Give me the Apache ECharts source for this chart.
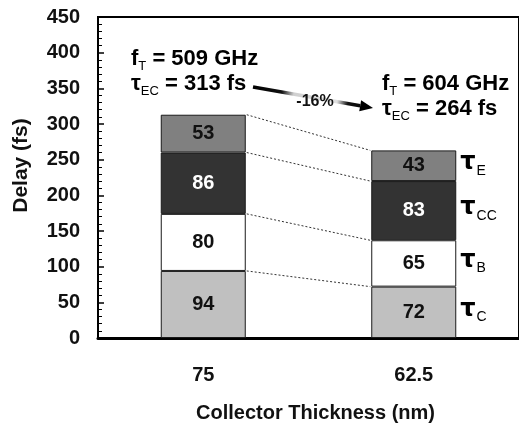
<!DOCTYPE html>
<html>
<head>
<meta charset="utf-8">
<script src="https://cdn.jsdelivr.net/npm/echarts@6/dist/echarts.min.js"></script>
<style>html,body{margin:0;padding:0;background:#fff;}#c{width:519px;height:428px;}</style>
</head>
<body>
<div id="c"></div>
<script>
const categories = ['75', '62.5'];
const tauC = [94, 72];
const tauB = [80, 65];
const tauCC = [86, 83];
const tauE = [53, 43];
const tauNames = ['C', 'B', 'CC', 'E'];
const leftNote = { fT: '509 GHz', tEC: '313 fs' };
const rightNote = { fT: '604 GHz', tEC: '264 fs' };
const changeLabel = '-16%';

const FONT = 'Liberation Sans, Arial, sans-serif';
const BAR_W = 85;
const stacks = [tauC, tauB, tauCC, tauE];
const colors = ['#c0c0c0', '#ffffff', '#333333', '#808080'];
const labelColors = ['#111', '#111', '#fff', '#111'];

// cumulative boundaries
const cum = [[0, 0]];
stacks.forEach((s, i) => cum.push([cum[i][0] + s[0], cum[i][1] + s[1]]));
const connData = cum.slice(1).map(c => [0, c[0], c[1]]);
const tauData = stacks.map((s, i) => [1, cum[i][1] + s[1] / 2, i]);

const barSeries = stacks.map((s, i) => ({
  type: 'bar', stack: 'd', data: s, barWidth: BAR_W,
  itemStyle: { color: colors[i], borderColor: '#1a1a1a', borderWidth: 1 },
  label: { show: true, position: 'inside', fontFamily: FONT, fontWeight: 'bold', fontSize: 20, color: labelColors[i] },
  silent: true, animation: false
}));

const richNote = {
  a: { fontFamily: FONT, fontWeight: 'bold', fontSize: 22, lineHeight: 25, verticalAlign: 'top', color: '#111' },
  s: { fontFamily: FONT, fontWeight: 'normal', fontSize: 13, lineHeight: 13, padding: [12, 0, 0, 0], verticalAlign: 'top', color: '#111' }
};
function note(n) {
  return '{a|f}{s|T}{a| = ' + n.fT + '}\n{a|τ}{s|EC}{a| = ' + n.tEC + '}';
}

// arrow geometry (annotation)
const A0 = [253, 87], A1 = [373, 108];
const dx = A1[0] - A0[0], dy = A1[1] - A0[1], L = Math.hypot(dx, dy);
const ux = dx / L, uy = dy / L, HL = 13, HW = 5.5;
const base = [A1[0] - ux * HL, A1[1] - uy * HL];

const chart = echarts.init(document.getElementById('c'));
chart.setOption({
  backgroundColor: '#fff',
  animation: false,
  grid: { left: 98, top: 17, width: 428, height: 322, show: true, borderColor: '#000', borderWidth: 2, backgroundColor: 'transparent' },
  xAxis: {
    type: 'category', data: categories,
    axisLine: { lineStyle: { color: '#000', width: 3 } },
    axisTick: { show: false },
    axisLabel: { fontFamily: FONT, fontWeight: 'bold', fontSize: 20, color: '#111', margin: 27 },
    name: 'Collector Thickness (nm)', nameLocation: 'middle', nameGap: 65,
    nameTextStyle: { fontFamily: FONT, fontWeight: 'bold', fontSize: 20, color: '#111', padding: [0, 0, 0, 14] }
  },
  yAxis: {
    type: 'value', min: 0, max: 450, interval: 50,
    axisLine: { show: true, lineStyle: { color: '#000', width: 2 } },
    axisTick: { show: true, inside: true, length: 6, lineStyle: { color: '#000', width: 1.5 } },
    minorTick: { show: true, splitNumber: 5, length: 4, lineStyle: { color: '#000', width: 1 } },
    splitLine: { show: false },
    axisLabel: { fontFamily: FONT, fontWeight: 'bold', fontSize: 20, color: '#111', margin: 18 },
    name: 'Delay (fs)', nameLocation: 'middle', nameGap: 66,
    nameTextStyle: { fontFamily: FONT, fontWeight: 'bold', fontSize: 21, color: '#111', padding: [0, 0, 0, 24] }
  },
  series: barSeries.concat([
    {
      type: 'custom', coordinateSystem: 'cartesian2d', data: connData, encode: { x: 0, y: 1 },
      silent: true, z: 5,
      renderItem: function (params, api) {
        const p1 = api.coord([0, api.value(1)]);
        const p2 = api.coord([1, api.value(2)]);
        return {
          type: 'line',
          shape: { x1: p1[0] + BAR_W / 2 + 1, y1: p1[1], x2: p2[0] - BAR_W / 2 - 1, y2: p2[1] },
          style: { stroke: '#333', lineWidth: 1, lineDash: [2, 2] }
        };
      }
    },
    {
      type: 'custom', coordinateSystem: 'cartesian2d', data: tauData, encode: { x: 0, y: 1 },
      silent: true, z: 5,
      renderItem: function (params, api) {
        const p = api.coord([1, api.value(1)]);
        return {
          type: 'text', x: p[0] + BAR_W / 2 + 4, y: p[1] - 15,
          style: {
            text: '{t|τ}{s|' + tauNames[params.dataIndex] + '}',
            rich: {
              t: { fontFamily: 'DejaVu Sans, sans-serif', fontWeight: 'bold', fontSize: 24, lineHeight: 24, verticalAlign: 'top', color: '#111' },
              s: { fontFamily: FONT, fontWeight: 'normal', fontSize: 14, lineHeight: 14, padding: [13, 0, 0, 1], verticalAlign: 'top', color: '#111' }
            }
          }
        };
      }
    }
  ]),
  graphic: [
    { type: 'text', left: 131, top: 48, z: 10, style: { text: note(leftNote), rich: richNote } },
    { type: 'text', left: 382, top: 73, z: 10, style: { text: note(rightNote), rich: richNote } },
    {
      type: 'line', z: 9,
      shape: { x1: A0[0], y1: A0[1], x2: base[0], y2: base[1] },
      style: {
        lineWidth: 3.5,
        stroke: {
          type: 'linear', x: A0[0], y: A0[1], x2: A1[0], y2: A1[1], global: true,
          colorStops: [
            { offset: 0, color: '#000' }, { offset: 0.24, color: '#111' },
            { offset: 0.34, color: '#d0d0d0' }, { offset: 0.7, color: '#e0e0e0' },
            { offset: 0.79, color: '#111' }, { offset: 1, color: '#000' }
          ]
        }
      }
    },
    {
      type: 'polygon', z: 9,
      shape: { points: [A1, [base[0] - uy * HW, base[1] + ux * HW], [base[0] + uy * HW, base[1] - ux * HW]] },
      style: { fill: '#000' }
    },
    {
      type: 'text', x: 315, y: 102, z: 11,
      style: { text: changeLabel, fontFamily: FONT, fontWeight: 'bold', fontSize: 16, fill: '#111', align: 'center', verticalAlign: 'middle' }
    }
  ]
});
</script>
</body>
</html>
